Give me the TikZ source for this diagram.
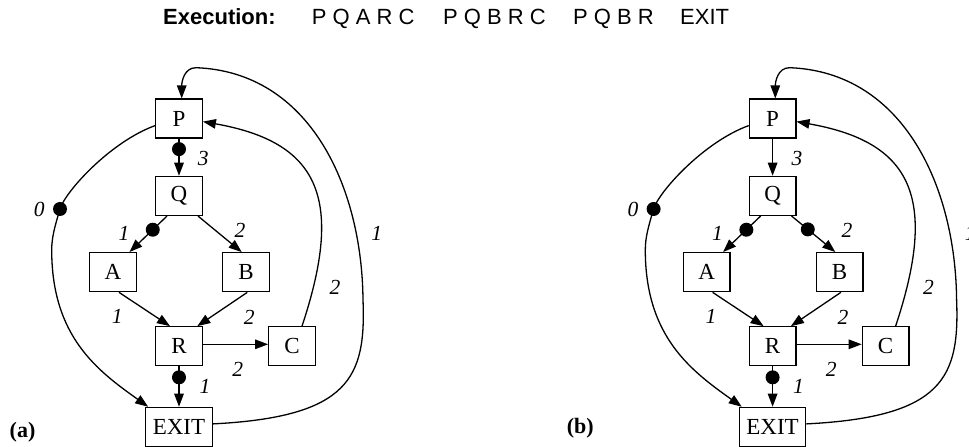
\documentclass[tikz,border=0pt]{standalone}
\usepackage{fontspec}
\setmainfont{Liberation Serif}
\newfontfamily\titlefont{Liberation Sans}
\usetikzlibrary{arrows.meta}

\tikzset{
  blk/.style={draw, line width=1.3pt, minimum width=46.5pt, minimum height=39pt,
    inner xsep=7pt, font=\fontsize{23}{26}\selectfont},
  lab/.style={inner sep=0pt, font=\fontsize{21.5}{24}\selectfont\itshape},
  ttl/.style={inner sep=0pt, anchor=base west, font=\titlefont\fontsize{22}{26}\selectfont},
  flow/.style={line width=1.3pt, -{Triangle[length=13pt,width=9.5pt]}},
  dotmark/.style={circle, fill, inner sep=0pt, minimum size=14pt},
  nodot/.style={inner sep=0pt},
}

\begin{document}
\begin{tikzpicture}[x=1pt,y=1pt]
  \useasboundingbox (0,0) rectangle (969,447);

  % Title line
  \node[ttl, font=\titlefont\bfseries\fontsize{22}{26}\selectfont] (exec) at (163,422) {Execution:};
  \node[ttl] (run1) at (311.7,422) {P Q A R C};
  \node[ttl] (run2) at (443,422) {P Q B R C};
  \node[ttl] (run3) at (573,422) {P Q B R};
  \node[ttl] (run4) at (680,422) {EXIT};

  % Two panels, same graph, different marks
  \foreach \sx/\p/\pqdot/\qbdot/\qbx in {0/a/dotmark/nodot/240, 593.6/b/nodot/dotmark/253.4} {
    \begin{scope}[shift={(\sx,0)}]
      % Blocks
      \node[blk] (P\p) at (179,328.4) {P};
      \node[blk] (Q\p) at (179,251.1) {Q};
      \node[blk] (A\p) at (113,174.8) {A};
      \node[blk] (B\p) at (246,174.8) {B};
      \node[blk] (R\p) at (179,100.7) {R};
      \node[blk] (C\p) at (292,100.7) {C};
      \node[blk] (EXIT\p) at (179,20.1) {EXIT};

      % Straight edges
      \draw[flow] (P\p.south) -- node[\pqdot, pos=.28] (dpq\p) {} (Q\p.north);
      \draw[flow] ([xshift=-12pt]Q\p.south) -- node[dotmark, pos=.38] (dqa\p) {} ([xshift=16.5pt]A\p.north);
      \draw[flow] ([xshift=19pt]Q\p.south) -- node[\qbdot, pos=.37] (dqb\p) {} ([xshift=-4.3pt]B\p.north);
      \draw[flow] ([xshift=6pt]A\p.south) -- ([xshift=-9pt]R\p.north);
      \draw[flow] ([xshift=1.3pt]B\p.south) -- ([xshift=18.3pt]R\p.north);
      \draw[flow] ([yshift=2pt]R\p.east) -- ([yshift=2pt]C\p.west);
      \draw[flow] (R\p.south) -- node[dotmark, pos=.27] (dre\p) {} (EXIT\p.north);

      % Curved edges
      \draw[flow] ([yshift=-7pt]P\p.west) .. controls (110,305) and (65,255) .. (60,238) node[dotmark] (dz\p) {}
        .. controls (55,221) and (51.7,210) .. (51.7,197)
        .. controls (51.7,110) and (98,76) .. ([xshift=3pt]EXIT\p.north west);
      \draw[flow] ([xshift=10pt]C\p.north) .. controls (345,250) and (318,305) .. ([yshift=-3pt]P\p.east);
      \draw[flow] ([yshift=3pt]EXIT\p.east) .. controls (350,30) and (366,70) .. (363,147)
        .. controls (362,260) and (310,375) .. (196,379.3)
        .. controls (184,379.3) and (181.7,365) .. ([xshift=2.7pt]P\p.north);

      % Edge labels
      \node[lab] (l3\p) at (203.3,288.7) {3};
      \node[lab] (l0\p) at (39.3,238) {0};
      \node[lab] (lqa\p) at (124,213.7) {1};
      \node[lab] (lqb\p) at (\qbx,217) {2};
      \node[lab] (lar\p) at (117.3,130.3) {1};
      \node[lab] (lbr\p) at (249.3,129.7) {2};
      \node[lab] (lrc\p) at (237.7,77.7) {2};
      \node[lab] (lre\p) at (205,60.3) {1};
      \node[lab] (lcp\p) at (335,159.7) {2};
      \node[lab] (lep\p) at (376.7,213.7) {1};
    \end{scope}
  }

  % Panel tags
  \node[font=\bfseries\fontsize{22}{26}\selectfont, inner sep=0pt] (tagA) at (22.5,14.3) {(a)};
  \node[font=\bfseries\fontsize{22}{26}\selectfont, inner sep=0pt] (tagB) at (580.3,18.7) {(b)};
\end{tikzpicture}
\end{document}
